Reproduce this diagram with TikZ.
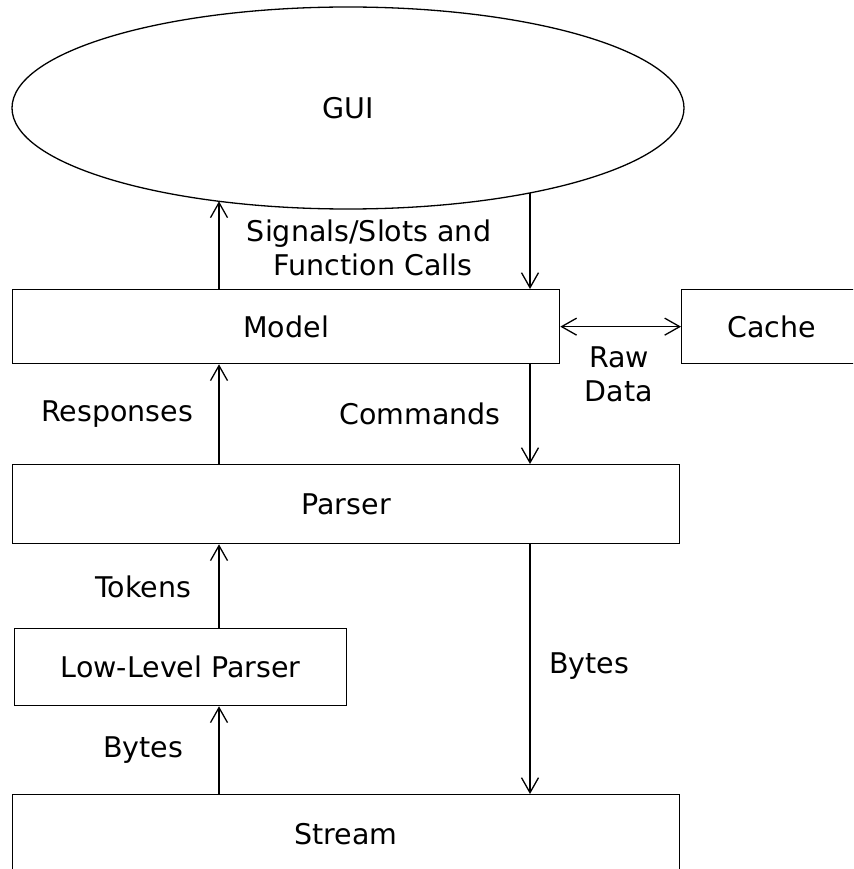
\documentclass[tikz,border=0pt]{standalone}
\usepackage{fontspec}
\setmainfont{DejaVu Sans}
\usetikzlibrary{arrows.meta,shapes.geometric}
\begin{document}
\begin{tikzpicture}[x=1pt,y=-1pt,
  every node/.style={font=\fontsize{28.5}{34}\selectfont},
  blk/.style={draw,line width=1.3pt,rectangle,inner sep=0pt,anchor=north west},
  lbl/.style={align=center,inner sep=0pt},
  conn/.style={line width=1.3pt,-{Straight Barb[length=15pt,width=17pt,line width=1.3pt]}},
  conn2/.style={line width=1.3pt,{Straight Barb[length=15pt,width=17pt,line width=1.3pt]}-{Straight Barb[length=15pt,width=17pt,line width=1.3pt]}}]
\clip (0,0) rectangle (853,869);
\node[draw,line width=1.3pt,ellipse,inner sep=0pt,minimum width=672pt,minimum height=202pt] (gui) at (348,108) {GUI};
\node[blk,minimum width=547pt,minimum height=74pt] (model) at (12,289) {Model};
\node[blk,minimum width=180pt,minimum height=74pt] (cache) at (681,289) {Cache};
\node[blk,minimum width=667pt,minimum height=79pt] (parser) at (12,464) {Parser};
\node[blk,minimum width=332pt,minimum height=77pt] (llp) at (14,628) {Low-Level Parser};
\node[blk,minimum width=667pt,minimum height=78pt] (stream) at (12,794) {Stream};
\coordinate (xl) at (219,0);
\coordinate (xr) at (530,0);
\draw[conn] (model.north -| xl) -- (xl |- gui.215.9);
\draw[conn] (xr |- gui.335) -- (model.north -| xr);
\draw[conn2] (model.east) -- (cache.west);
\draw[conn] (parser.north -| xl) -- (model.south -| xl);
\draw[conn] (model.south -| xr) -- (parser.north -| xr);
\draw[conn] (llp.north -| xl) -- (parser.south -| xl);
\draw[conn] (parser.south -| xr) -- (stream.north -| xr);
\draw[conn] (stream.north -| xl) -- (llp.south -| xl);
\node[lbl] (l1) at (369,248) {Signals/Slots and\\ \hspace*{8pt}Function Calls};
\node[lbl] (l2) at (619,374) {Raw\\Data};
\node[lbl] (l3) at (117,414) {Responses};
\node[lbl] (l4) at (420,414) {Commands};
\node[lbl] (l5) at (143,587) {Tokens};
\node[lbl] (l6) at (589,666) {Bytes};
\node[lbl] (l7) at (143,750) {Bytes};
\end{tikzpicture}
\end{document}
